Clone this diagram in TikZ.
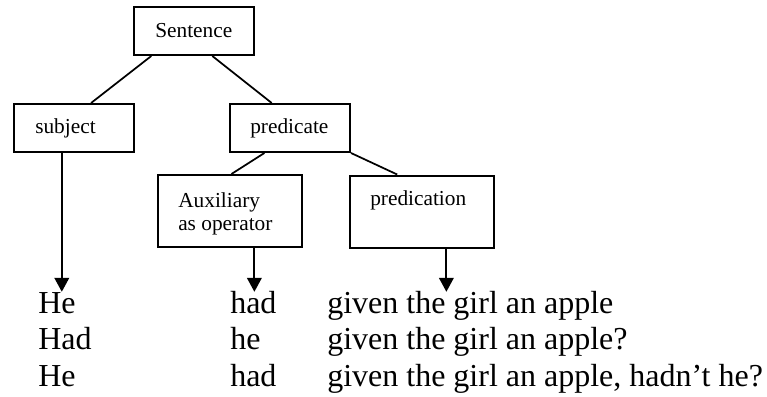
\documentclass[tikz,border=0pt]{standalone}
\usepackage{fontspec}
\setmainfont{Liberation Serif}
\usetikzlibrary{arrows.meta,calc}
\tikzset{
  box/.style={draw,line width=1.5pt,rectangle,inner sep=0pt},
  lbl/.style={anchor=base west,inner sep=0pt,font=\fontsize{16}{19}\selectfont},
  word/.style={anchor=base west,inner sep=0pt,font=\fontsize{24}{28}\selectfont},
  conn/.style={line width=1.3pt},
  arr/.style={line width=1.4pt,-{Triangle[width=11pt,length=10.5pt]}}
}
\begin{document}
\begin{tikzpicture}[x=0.75pt,y=-0.75pt]
\useasboundingbox (0,0) rectangle (767,396);
% boxes
\node[box,minimum width=90pt,minimum height=36pt] (S) at (194,31) {};
\node[box,minimum width=90pt,minimum height=36pt] (subj) at (74,128) {};
\node[box,minimum width=90pt,minimum height=36pt] (pred) at (290,128) {};
\node[box,minimum width=108pt,minimum height=54pt] (aux) at (230,211) {};
\node[box,minimum width=108pt,minimum height=54pt] (predn) at (422,211.5) {};
% box labels
\node[lbl] (tS) at (155,37) {Sentence};
\node[lbl] (tsubj) at (35,133) {subject};
\node[lbl] (tpred) at (250,133) {predicate};
\node[lbl] (taux1) at (178,207) {Auxiliary};
\node[lbl] (taux2) at (178,230) {as operator};
\node[lbl] (tpredn) at (370,205) {predication};
% example rows
\node[word] (r1a) at (38,313) {He};
\node[word] (r1b) at (230,313) {had};
\node[word] (r1c) at (327,313) {given the girl an apple};
\node[word] (r2a) at (38,349.5) {Had};
\node[word] (r2b) at (230,349.5) {he};
\node[word] (r2c) at (327,349.5) {given the girl an apple?};
\node[word] (r3a) at (38,386) {He};
\node[word] (r3b) at (230,386) {had};
\node[word] (r3c) at (327,386) {given the girl an apple, hadn’t he?};
% tree connectors
\draw[conn] ($(S.south west)!0.15!(S.south east)$) -- ($(subj.north west)!0.64!(subj.north east)$);
\draw[conn] ($(S.south west)!0.65!(S.south east)$) -- ($(pred.north west)!0.35!(pred.north east)$);
\draw[conn] ($(pred.south west)!0.29!(pred.south east)$) -- ($(aux.north west)!0.51!(aux.north east)$);
\draw[conn] (pred.south east) -- ($(predn.north west)!0.33!(predn.north east)$);
% arrows
\coordinate (a1) at ($(subj.south west)!0.4!(subj.south east)$);
\coordinate (a2) at ($(aux.south west)!0.667!(aux.south east)$);
\coordinate (a3) at ($(predn.south west)!0.667!(predn.south east)$);
\draw[arr] (a1) -- (a1 |- r1a.north);
\draw[arr] (a2) -- (a2 |- r1a.north);
\draw[arr] (a3) -- (a3 |- r1a.north);
\end{tikzpicture}
\end{document}
